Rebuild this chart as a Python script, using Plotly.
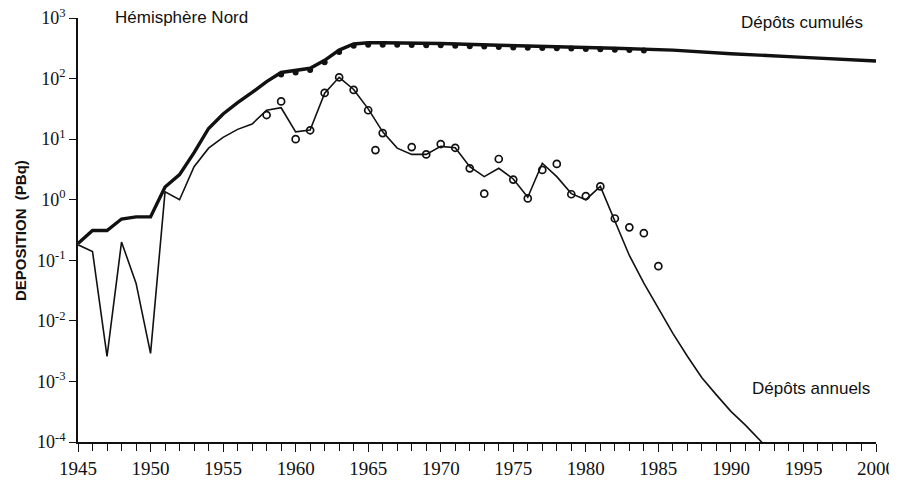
import plotly.graph_objects as go

# Annual deposition, model line (PBq)
annual_years = list(range(1945, 1994))
annual_model = [0.18, 0.14, 0.0026, 0.20, 0.042, 0.0029, 1.35, 1.0, 3.5, 7.1,
                10.7, 14.5, 17.8, 30, 33, 13.2, 14.1, 57.5, 105, 66,
                31.6, 13.2, 7.1, 5.6, 5.6, 7.6, 7.2, 3.5, 2.4, 3.3,
                2.2, 1.1, 4.0, 2.4, 1.26, 1.0, 1.66, 0.43, 0.12, 0.042,
                0.016, 0.0062, 0.0026, 0.00115, 0.0006, 0.00032, 0.00019, 0.000107, 0.00006]

# Annual deposition, observed (open circles)
annual_obs_years = [1958, 1959, 1960, 1961, 1962, 1963, 1964, 1965, 1965.5, 1966,
                    1968, 1969, 1970, 1971, 1972, 1973, 1974, 1975, 1976, 1977,
                    1978, 1979, 1980, 1981, 1982, 1983, 1984, 1985]
annual_obs = [25, 42, 10, 14, 58, 105, 65, 30, 6.6, 12.6,
              7.4, 5.6, 8.3, 7.2, 3.3, 1.26, 4.7, 2.15, 1.05, 3.1,
              3.9, 1.23, 1.15, 1.66, 0.49, 0.35, 0.28, 0.08]

# Cumulative deposition, model line (PBq)
cum_years = [1945, 1946, 1947, 1948, 1949, 1950, 1951, 1952, 1953, 1954,
             1955, 1956, 1957, 1958, 1959, 1960, 1961, 1962, 1963, 1964,
             1965, 1966, 1970, 1974, 1978, 1982, 1986, 1990, 1995, 2000]
cum_model = [0.19, 0.31, 0.31, 0.48, 0.52, 0.52, 1.62, 2.6, 6.0, 15,
             26, 40, 59, 89, 126, 135, 148, 200, 295, 372,
             390, 390, 380, 355, 339, 316, 295, 257, 224, 195]

# Cumulative deposition, observed (filled dots)
cum_obs_years = list(range(1959, 1985))
cum_obs = [117, 126, 138, 186, 275, 347, 363, 363, 363, 359,
           355, 355, 347, 343, 339, 331, 327, 324, 320, 316,
           313, 309, 305, 299, 295, 292]

y_tickvals = [1e-4, 1e-3, 1e-2, 1e-1, 1e0, 1e1, 1e2, 1e3]
y_ticktext = ["10<sup>-4</sup>", "10<sup>-3</sup>", "10<sup>-2</sup>", "10<sup>-1</sup>",
              "10<sup>0</sup>", "10<sup>1</sup>", "10<sup>2</sup>", "10<sup>3</sup>"]
x_tickvals = [1945, 1950, 1955, 1960, 1965, 1970, 1975, 1980, 1985, 1990, 1995, 2000]
x_ticktext = [str(v) for v in x_tickvals]

ink = "#111111"
fig = go.Figure()
fig.add_trace(go.Scatter(x=annual_years, y=annual_model, mode="lines",
                         line=dict(color=ink, width=1.6), showlegend=False))
fig.add_trace(go.Scatter(x=annual_obs_years, y=annual_obs, mode="markers",
                         marker=dict(symbol="circle-open", size=7, color=ink,
                                     line=dict(width=1.7, color=ink)),
                         showlegend=False))
fig.add_trace(go.Scatter(x=cum_years, y=cum_model, mode="lines",
                         line=dict(color=ink, width=3.4), showlegend=False))
fig.add_trace(go.Scatter(x=cum_obs_years, y=cum_obs, mode="markers",
                         marker=dict(symbol="circle", size=6, color=ink),
                         showlegend=False))

sans = "Liberation Sans, Arial, sans-serif"
serif = "Liberation Serif, Times New Roman, serif"

# page has an 8px body margin, so the figure is sized/margined to compensate
fig.update_layout(
    width=889, height=474,
    margin=dict(l=70, r=21, t=10, b=40),
    paper_bgcolor="white", plot_bgcolor="white",
    xaxis=dict(range=[1945, 2000], tickvals=x_tickvals, ticktext=x_ticktext,
               automargin=False, ticklabeloverflow="allow",
               showgrid=False, zeroline=False, showline=True, linecolor=ink, linewidth=1.6,
               ticks="outside", ticklen=8, tickwidth=1.3, tickcolor=ink,
               minor=dict(dtick=1, ticks="outside", ticklen=7, tickwidth=1, tickcolor=ink),
               tickfont=dict(family=serif, size=19, color=ink)),
    yaxis=dict(type="log", range=[-4, 3], tickvals=y_tickvals, ticktext=y_ticktext,
               automargin=False, ticklabeloverflow="allow",
               showgrid=False, zeroline=False, showline=True, linecolor=ink, linewidth=1.6,
               ticks="outside", ticklen=7, tickwidth=1.3, tickcolor=ink,
               tickfont=dict(family=serif, size=18, color=ink)),
    annotations=[
        dict(text="Hémisphère Nord", x=1947.4, y=1.002, xref="x", yref="paper",
             xanchor="left", yanchor="middle", showarrow=False,
             font=dict(family=sans, size=17, color=ink)),
        dict(text="Dépôts cumulés", x=1999.25, y=0.99, xref="x", yref="paper",
             xanchor="right", yanchor="middle", showarrow=False,
             font=dict(family=sans, size=17, color=ink)),
        dict(text="Dépôts annuels", x=1999.7, y=-3.11, xref="x", yref="y",
             xanchor="right", yanchor="middle", showarrow=False,
             font=dict(family=sans, size=17, color=ink)),
        dict(text="<b>DEPOSITION  (PBq)</b>", x=-0.0727, y=0.5, xref="paper", yref="paper",
             xanchor="center", yanchor="middle", textangle=-90, showarrow=False,
             font=dict(family=sans, size=15, color=ink)),
    ],
)

fig.write_html("out.html")
